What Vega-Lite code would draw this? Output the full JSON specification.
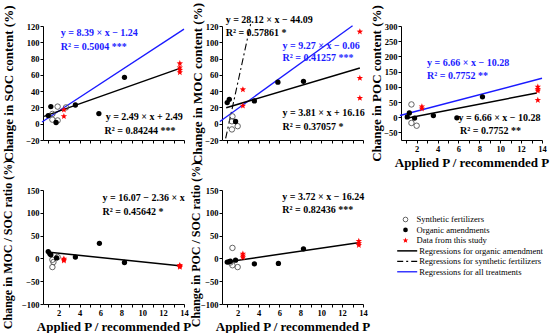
{
  "$schema": "https://vega.github.io/schema/vega-lite/v6.json",
  "padding": {"left": 0, "top": 2, "right": 0, "bottom": 0},
  "config": {
    "view": {"stroke": null},
    "axis": {"grid": false, "domainColor": "black", "tickColor": "black", "tickSize": 3, "domainWidth": 1, "tickWidth": 1,
      "labelFont": "Liberation Serif", "labelFontWeight": "bold", "labelFontSize": 8.5, "labelColor": "black", "labelPadding": 1,
      "labelFlush": false, "labelOverlap": false,
      "titleFont": "Liberation Serif", "titleFontWeight": "bold", "titleFontSize": 13, "titleColor": "black"},
    "axisY": {"titleAngle": 270, "titleBaseline": "bottom", "titleAlign": "center"}
  },
  "datasets": {
    "pts": [
      {"panel": "SOC", "group": "organic", "x": 1.0, "y": 10}, {"panel": "SOC", "group": "organic", "x": 1.25, "y": 21}, {"panel": "SOC", "group": "organic", "x": 1.75, "y": 1.5}, {"panel": "SOC", "group": "organic", "x": 3.6, "y": 23}, {"panel": "SOC", "group": "organic", "x": 5.85, "y": 12.5}, {"panel": "SOC", "group": "organic", "x": 8.3, "y": 57},
      {"panel": "SOC", "group": "synthetic", "x": 1.4, "y": 12}, {"panel": "SOC", "group": "synthetic", "x": 1.4, "y": 5}, {"panel": "SOC", "group": "synthetic", "x": 1.9, "y": 4}, {"panel": "SOC", "group": "synthetic", "x": 1.9, "y": 21}, {"panel": "SOC", "group": "synthetic", "x": 2.7, "y": 20},
      {"panel": "SOC", "group": "study", "x": 2.5, "y": 17}, {"panel": "SOC", "group": "study", "x": 2.5, "y": 9}, {"panel": "SOC", "group": "study", "x": 13.6, "y": 74}, {"panel": "SOC", "group": "study", "x": 13.6, "y": 69}, {"panel": "SOC", "group": "study", "x": 13.6, "y": 66}, {"panel": "SOC", "group": "study", "x": 13.6, "y": 63},
      {"panel": "MOC", "group": "organic", "x": 1.0, "y": 26}, {"panel": "MOC", "group": "organic", "x": 1.2, "y": 30}, {"panel": "MOC", "group": "organic", "x": 1.8, "y": 2.7}, {"panel": "MOC", "group": "organic", "x": 3.6, "y": 28}, {"panel": "MOC", "group": "organic", "x": 5.85, "y": 51}, {"panel": "MOC", "group": "organic", "x": 8.3, "y": 52},
      {"panel": "MOC", "group": "synthetic", "x": 1.5, "y": 9}, {"panel": "MOC", "group": "synthetic", "x": 1.45, "y": 3}, {"panel": "MOC", "group": "synthetic", "x": 1.45, "y": -7}, {"panel": "MOC", "group": "synthetic", "x": 2.0, "y": -3},
      {"panel": "MOC", "group": "study", "x": 2.5, "y": 42}, {"panel": "MOC", "group": "study", "x": 2.5, "y": 22}, {"panel": "MOC", "group": "study", "x": 13.7, "y": 113}, {"panel": "MOC", "group": "study", "x": 13.7, "y": 56}, {"panel": "MOC", "group": "study", "x": 13.7, "y": 31.5},
      {"panel": "POC", "group": "organic", "x": 1.1, "y": 1}, {"panel": "POC", "group": "organic", "x": 1.3, "y": 14}, {"panel": "POC", "group": "organic", "x": 1.8, "y": -3}, {"panel": "POC", "group": "organic", "x": 3.6, "y": 5.5}, {"panel": "POC", "group": "organic", "x": 5.85, "y": -2}, {"panel": "POC", "group": "organic", "x": 8.3, "y": 67},
      {"panel": "POC", "group": "synthetic", "x": 1.5, "y": 42}, {"panel": "POC", "group": "synthetic", "x": 1.5, "y": -19}, {"panel": "POC", "group": "synthetic", "x": 2.0, "y": -28},
      {"panel": "POC", "group": "study", "x": 2.5, "y": 35}, {"panel": "POC", "group": "study", "x": 2.5, "y": 28}, {"panel": "POC", "group": "study", "x": 13.6, "y": 100}, {"panel": "POC", "group": "study", "x": 13.6, "y": 92}, {"panel": "POC", "group": "study", "x": 13.6, "y": 87}, {"panel": "POC", "group": "study", "x": 13.6, "y": 56},
      {"panel": "MS", "group": "organic", "x": 1.0, "y": 15}, {"panel": "MS", "group": "organic", "x": 1.15, "y": 10}, {"panel": "MS", "group": "organic", "x": 1.25, "y": 8}, {"panel": "MS", "group": "organic", "x": 1.8, "y": 1}, {"panel": "MS", "group": "organic", "x": 3.6, "y": 3}, {"panel": "MS", "group": "organic", "x": 5.9, "y": 33}, {"panel": "MS", "group": "organic", "x": 8.3, "y": -9},
      {"panel": "MS", "group": "synthetic", "x": 1.4, "y": -3}, {"panel": "MS", "group": "synthetic", "x": 1.4, "y": -19}, {"panel": "MS", "group": "synthetic", "x": 1.9, "y": 3}, {"panel": "MS", "group": "synthetic", "x": 1.5, "y": -8},
      {"panel": "MS", "group": "study", "x": 2.5, "y": -3}, {"panel": "MS", "group": "study", "x": 2.5, "y": -1}, {"panel": "MS", "group": "study", "x": 2.5, "y": -5}, {"panel": "MS", "group": "study", "x": 13.6, "y": -17}, {"panel": "MS", "group": "study", "x": 13.6, "y": -19}, {"panel": "MS", "group": "study", "x": 13.6, "y": -15},
      {"panel": "PS", "group": "organic", "x": 1.0, "y": -8}, {"panel": "PS", "group": "organic", "x": 1.2, "y": -7}, {"panel": "PS", "group": "organic", "x": 1.3, "y": -6}, {"panel": "PS", "group": "organic", "x": 1.8, "y": -4}, {"panel": "PS", "group": "organic", "x": 3.6, "y": -12}, {"panel": "PS", "group": "organic", "x": 5.9, "y": -11}, {"panel": "PS", "group": "organic", "x": 8.3, "y": 21},
      {"panel": "PS", "group": "synthetic", "x": 1.5, "y": 23}, {"panel": "PS", "group": "synthetic", "x": 1.5, "y": -15}, {"panel": "PS", "group": "synthetic", "x": 2.0, "y": -19}, {"panel": "PS", "group": "synthetic", "x": 1.3, "y": -9},
      {"panel": "PS", "group": "study", "x": 2.5, "y": 10}, {"panel": "PS", "group": "study", "x": 2.5, "y": 6}, {"panel": "PS", "group": "study", "x": 2.5, "y": 2}, {"panel": "PS", "group": "study", "x": 13.6, "y": 38}, {"panel": "PS", "group": "study", "x": 13.6, "y": 33}, {"panel": "PS", "group": "study", "x": 13.6, "y": 29}
    ],
    "lines": [
      {"panel": "SOC", "reg": "organic", "x": 0.6, "y": 9}, {"panel": "SOC", "reg": "organic", "x": 13.6, "y": 68},
      {"panel": "SOC", "reg": "all", "x": 0.4, "y": 2.1}, {"panel": "SOC", "reg": "all", "x": 14, "y": 116.2},
      {"panel": "MOC", "reg": "organic", "x": 0.9, "y": 19.6}, {"panel": "MOC", "reg": "organic", "x": 13.7, "y": 68.4},
      {"panel": "MOC", "reg": "all", "x": 0.3, "y": 2.7}, {"panel": "MOC", "reg": "all", "x": 13, "y": 120.4},
      {"panel": "MOC", "reg": "synthetic", "x": 0.85, "y": -18}, {"panel": "MOC", "reg": "synthetic", "x": 3.3, "y": 126},
      {"panel": "POC", "reg": "organic", "x": 0.9, "y": -4.3}, {"panel": "POC", "reg": "organic", "x": 13.5, "y": 79.6},
      {"panel": "POC", "reg": "all", "x": 0.4, "y": 5.6}, {"panel": "POC", "reg": "all", "x": 14, "y": 128},
      {"panel": "MS", "reg": "organic", "x": 0.9, "y": 14}, {"panel": "MS", "reg": "organic", "x": 13.8, "y": -16.5},
      {"panel": "PS", "reg": "organic", "x": 0.9, "y": -8}, {"panel": "PS", "reg": "organic", "x": 13.7, "y": 35}
    ],
    "eqs": [
      {"panel": "SOC", "reg": "all", "label": "y = 8.39 × x − 1.24", "x": 2.2, "y": 111.8},
      {"panel": "SOC", "reg": "all", "label": "R² = 0.5004 ***", "x": 2.2, "y": 94},
      {"panel": "SOC", "reg": "organic", "label": "y = 2.49 × x + 2.49", "x": 6.5, "y": 8},
      {"panel": "SOC", "reg": "organic", "label": "R² = 0.84244 ***", "x": 6.4, "y": -8.4},
      {"panel": "MOC", "reg": "synthetic", "label": "y = 28.12 × x − 44.09", "x": 0.85, "y": 127.4},
      {"panel": "MOC", "reg": "synthetic", "label": "R² = 0.57861 *", "x": 0.85, "y": 111},
      {"panel": "MOC", "reg": "all", "label": "y = 9.27 × x − 0.06", "x": 6.3, "y": 96},
      {"panel": "MOC", "reg": "all", "label": "R² = 0.41257 ***", "x": 6.3, "y": 81},
      {"panel": "MOC", "reg": "organic", "label": "y = 3.81 × x + 16.16", "x": 6.3, "y": 13},
      {"panel": "MOC", "reg": "organic", "label": "R² = 0.37057 *", "x": 6.3, "y": -3.5},
      {"panel": "POC", "reg": "all", "label": "y = 6.66 × x − 10.28", "x": 3.0, "y": 178},
      {"panel": "POC", "reg": "all", "label": "R² = 0.7752 **", "x": 3.0, "y": 135.6},
      {"panel": "POC", "reg": "organic", "label": "y = 6.66 × x − 10.28", "x": 6.0, "y": -2},
      {"panel": "POC", "reg": "organic", "label": "R² = 0.7752 **", "x": 6.15, "y": -46.7},
      {"panel": "MS", "reg": "organic", "label": "y = 16.07 − 2.36 × x", "x": 6.2, "y": 133},
      {"panel": "MS", "reg": "organic", "label": "R² = 0.45642 *", "x": 6.2, "y": 102},
      {"panel": "PS", "reg": "organic", "label": "y = 3.72 × x − 16.24", "x": 6.27, "y": 135},
      {"panel": "PS", "reg": "organic", "label": "R² = 0.82436 ***", "x": 6.27, "y": 106}
    ],
    "leg": [
      {"order": 0, "kind": "syn", "label": "Synthetic fertilizers"},
      {"order": 1, "kind": "org", "label": "Organic amendments"},
      {"order": 2, "kind": "study", "label": "Data from this study"},
      {"order": 3, "kind": "lorg", "label": "Regressions for organic amendment"},
      {"order": 4, "kind": "lsyn", "label": "Regressions for synthetic fertilizers"},
      {"order": 5, "kind": "lall", "label": "Regressions for all treatments"}
    ]
  },
  "columns": 3,
  "spacing": {"row": 50, "column": 38},
  "bounds": "flush",
  "concat": [
    {
      "width": 141, "height": 114,
      "encoding": {
        "x": {"field": "x", "type": "quantitative", "scale": {"domain": [0.5, 14]}, "axis": {"values": [1,2,3,4,5,6,7,8,9,10,11,12,13,14], "labels": false, "title": null}},
        "y": {"field": "y", "type": "quantitative", "scale": {"domain": [-20, 120]}, "axis": {"values": [-20,0,20,40,60,80,100,120], "title": "Change in SOC content (%)", "titleX": -28}}
      },
      "layer": [
        {"data": {"name": "lines"}, "transform": [{"filter": "datum.panel == 'SOC' && datum.reg == 'all'"}], "mark": {"type": "line", "color": "#1a1aff", "strokeWidth": 1.3}, "encoding": {}},
        {"data": {"name": "lines"}, "transform": [{"filter": "datum.panel == 'SOC' && datum.reg == 'organic'"}], "mark": {"type": "line", "color": "black", "strokeWidth": 1.5}, "encoding": {}},
        {"data": {"name": "pts"}, "transform": [{"filter": "datum.panel == 'SOC' && datum.group == 'synthetic'"}], "mark": {"type": "point", "shape": "circle", "filled": false, "stroke": "#555555", "strokeWidth": 0.9, "size": 30, "opacity": 1}},
        {"data": {"name": "pts"}, "transform": [{"filter": "datum.panel == 'SOC' && datum.group == 'organic'"}], "mark": {"type": "point", "shape": "circle", "filled": true, "color": "black", "size": 28, "opacity": 1}},
        {"data": {"name": "pts"}, "transform": [{"filter": "datum.panel == 'SOC' && datum.group == 'study'"}], "mark": {"type": "point", "shape": "M0,-1L0.247,-0.34L0.951,-0.309L0.399,0.13L0.588,0.809L0,0.42L-0.588,0.809L-0.399,0.13L-0.951,-0.309L-0.247,-0.34Z", "filled": true, "color": "red", "size": 45, "opacity": 1}},
        {"data": {"name": "eqs"}, "transform": [{"filter": "datum.panel == 'SOC' && datum.reg == 'all'"}], "mark": {"type": "text", "align": "left", "baseline": "middle", "font": "Liberation Serif", "fontWeight": "bold", "fontSize": 10, "color": "#1a1aff"}, "encoding": {"text": {"field": "label"}}},
        {"data": {"name": "eqs"}, "transform": [{"filter": "datum.panel == 'SOC' && datum.reg != 'all'"}], "mark": {"type": "text", "align": "left", "baseline": "middle", "font": "Liberation Serif", "fontWeight": "bold", "fontSize": 10, "color": "black"}, "encoding": {"text": {"field": "label"}}}
      ]
    },
    {
      "width": 141, "height": 114,
      "encoding": {
        "x": {"field": "x", "type": "quantitative", "scale": {"domain": [0.5, 14]}, "axis": {"values": [1,2,3,4,5,6,7,8,9,10,11,12,13,14], "labels": false, "title": null}},
        "y": {"field": "y", "type": "quantitative", "scale": {"domain": [-20, 120]}, "axis": {"values": [-20,0,20,40,60,80,100,120], "title": "Change in MOC content (%)", "titleX": -18}}
      },
      "layer": [
        {"data": {"name": "lines"}, "transform": [{"filter": "datum.panel == 'MOC' && datum.reg == 'synthetic'"}], "mark": {"type": "line", "color": "black", "strokeWidth": 1.1, "strokeDash": [7, 3, 2, 3]}, "encoding": {}},
        {"data": {"name": "lines"}, "transform": [{"filter": "datum.panel == 'MOC' && datum.reg == 'all'"}], "mark": {"type": "line", "color": "#1a1aff", "strokeWidth": 1.3}, "encoding": {}},
        {"data": {"name": "lines"}, "transform": [{"filter": "datum.panel == 'MOC' && datum.reg == 'organic'"}], "mark": {"type": "line", "color": "black", "strokeWidth": 1.5}, "encoding": {}},
        {"data": {"name": "pts"}, "transform": [{"filter": "datum.panel == 'MOC' && datum.group == 'synthetic'"}], "mark": {"type": "point", "shape": "circle", "filled": false, "stroke": "#555555", "strokeWidth": 0.9, "size": 30, "opacity": 1}},
        {"data": {"name": "pts"}, "transform": [{"filter": "datum.panel == 'MOC' && datum.group == 'organic'"}], "mark": {"type": "point", "shape": "circle", "filled": true, "color": "black", "size": 28, "opacity": 1}},
        {"data": {"name": "pts"}, "transform": [{"filter": "datum.panel == 'MOC' && datum.group == 'study'"}], "mark": {"type": "point", "shape": "M0,-1L0.247,-0.34L0.951,-0.309L0.399,0.13L0.588,0.809L0,0.42L-0.588,0.809L-0.399,0.13L-0.951,-0.309L-0.247,-0.34Z", "filled": true, "color": "red", "size": 45, "opacity": 1}},
        {"data": {"name": "eqs"}, "transform": [{"filter": "datum.panel == 'MOC' && datum.reg == 'all'"}], "mark": {"type": "text", "align": "left", "baseline": "middle", "font": "Liberation Serif", "fontWeight": "bold", "fontSize": 10, "color": "#1a1aff"}, "encoding": {"text": {"field": "label"}}},
        {"data": {"name": "eqs"}, "transform": [{"filter": "datum.panel == 'MOC' && datum.reg != 'all'"}], "mark": {"type": "text", "align": "left", "baseline": "middle", "font": "Liberation Serif", "fontWeight": "bold", "fontSize": 10, "color": "black"}, "encoding": {"text": {"field": "label"}}}
      ]
    },
    {
      "width": 141, "height": 114,
      "encoding": {
        "x": {"field": "x", "type": "quantitative", "scale": {"domain": [0.5, 14]}, "axis": {"values": [1,2,3,4,5,6,7,8,9,10,11,12,13,14], "labelExpr": "datum.value % 2 == 0 ? datum.label : ''", "title": "Applied P / recommended P", "titlePadding": 4}},
        "y": {"field": "y", "type": "quantitative", "scale": {"domain": [-75, 300]}, "axis": {"values": [-50,0,50,100,150,200,250,300], "title": "Change in POC content (%)", "titleX": -18}}
      },
      "layer": [
        {"data": {"name": "lines"}, "transform": [{"filter": "datum.panel == 'POC' && datum.reg == 'all'"}], "mark": {"type": "line", "color": "#1a1aff", "strokeWidth": 1.5}, "encoding": {}},
        {"data": {"name": "lines"}, "transform": [{"filter": "datum.panel == 'POC' && datum.reg == 'organic'"}], "mark": {"type": "line", "color": "black", "strokeWidth": 1.5}, "encoding": {}},
        {"data": {"name": "pts"}, "transform": [{"filter": "datum.panel == 'POC' && datum.group == 'synthetic'"}], "mark": {"type": "point", "shape": "circle", "filled": false, "stroke": "#555555", "strokeWidth": 0.9, "size": 30, "opacity": 1}},
        {"data": {"name": "pts"}, "transform": [{"filter": "datum.panel == 'POC' && datum.group == 'organic'"}], "mark": {"type": "point", "shape": "circle", "filled": true, "color": "black", "size": 28, "opacity": 1}},
        {"data": {"name": "pts"}, "transform": [{"filter": "datum.panel == 'POC' && datum.group == 'study'"}], "mark": {"type": "point", "shape": "M0,-1L0.247,-0.34L0.951,-0.309L0.399,0.13L0.588,0.809L0,0.42L-0.588,0.809L-0.399,0.13L-0.951,-0.309L-0.247,-0.34Z", "filled": true, "color": "red", "size": 45, "opacity": 1}},
        {"data": {"name": "eqs"}, "transform": [{"filter": "datum.panel == 'POC' && datum.reg == 'all'"}], "mark": {"type": "text", "align": "left", "baseline": "middle", "font": "Liberation Serif", "fontWeight": "bold", "fontSize": 10, "color": "#1a1aff"}, "encoding": {"text": {"field": "label"}}},
        {"data": {"name": "eqs"}, "transform": [{"filter": "datum.panel == 'POC' && datum.reg != 'all'"}], "mark": {"type": "text", "align": "left", "baseline": "middle", "font": "Liberation Serif", "fontWeight": "bold", "fontSize": 10, "color": "black"}, "encoding": {"text": {"field": "label"}}}
      ]
    },
    {
      "width": 141, "height": 114,
      "encoding": {
        "x": {"field": "x", "type": "quantitative", "scale": {"domain": [0.5, 14]}, "axis": {"values": [1,2,3,4,5,6,7,8,9,10,11,12,13,14], "labelExpr": "datum.value % 2 == 0 ? datum.label : ''", "title": "Applied P / recommended P", "titlePadding": 4}},
        "y": {"field": "y", "type": "quantitative", "scale": {"domain": [-100, 150]}, "axis": {"values": [-100,-50,0,50,100,150], "title": "Change in MOC / SOC ratio (%)", "titleX": -29, "titleY": 54, "titleFontSize": 12}}
      },
      "layer": [
        {"data": {"name": "lines"}, "transform": [{"filter": "datum.panel == 'MS' && datum.reg == 'organic'"}], "mark": {"type": "line", "color": "black", "strokeWidth": 1.5}, "encoding": {}},
        {"data": {"name": "pts"}, "transform": [{"filter": "datum.panel == 'MS' && datum.group == 'synthetic'"}], "mark": {"type": "point", "shape": "circle", "filled": false, "stroke": "#555555", "strokeWidth": 0.9, "size": 30, "opacity": 1}},
        {"data": {"name": "pts"}, "transform": [{"filter": "datum.panel == 'MS' && datum.group == 'organic'"}], "mark": {"type": "point", "shape": "circle", "filled": true, "color": "black", "size": 28, "opacity": 1}},
        {"data": {"name": "pts"}, "transform": [{"filter": "datum.panel == 'MS' && datum.group == 'study'"}], "mark": {"type": "point", "shape": "M0,-1L0.247,-0.34L0.951,-0.309L0.399,0.13L0.588,0.809L0,0.42L-0.588,0.809L-0.399,0.13L-0.951,-0.309L-0.247,-0.34Z", "filled": true, "color": "red", "size": 45, "opacity": 1}},
        {"data": {"name": "eqs"}, "transform": [{"filter": "datum.panel == 'MS'"}], "mark": {"type": "text", "align": "left", "baseline": "middle", "font": "Liberation Serif", "fontWeight": "bold", "fontSize": 10, "color": "black"}, "encoding": {"text": {"field": "label"}}}
      ]
    },
    {
      "width": 141, "height": 114,
      "encoding": {
        "x": {"field": "x", "type": "quantitative", "scale": {"domain": [0.5, 14]}, "axis": {"values": [1,2,3,4,5,6,7,8,9,10,11,12,13,14], "labelExpr": "datum.value % 2 == 0 ? datum.label : ''", "title": "Applied P / recommended P", "titlePadding": 4}},
        "y": {"field": "y", "type": "quantitative", "scale": {"domain": [-100, 150]}, "axis": {"values": [-100,-50,0,50,100,150], "title": "Change in POC / SOC ratio (%)", "titleX": -20, "titleY": 54, "titleFontSize": 12}}
      },
      "layer": [
        {"data": {"name": "lines"}, "transform": [{"filter": "datum.panel == 'PS' && datum.reg == 'organic'"}], "mark": {"type": "line", "color": "black", "strokeWidth": 1.5}, "encoding": {}},
        {"data": {"name": "pts"}, "transform": [{"filter": "datum.panel == 'PS' && datum.group == 'synthetic'"}], "mark": {"type": "point", "shape": "circle", "filled": false, "stroke": "#555555", "strokeWidth": 0.9, "size": 30, "opacity": 1}},
        {"data": {"name": "pts"}, "transform": [{"filter": "datum.panel == 'PS' && datum.group == 'organic'"}], "mark": {"type": "point", "shape": "circle", "filled": true, "color": "black", "size": 28, "opacity": 1}},
        {"data": {"name": "pts"}, "transform": [{"filter": "datum.panel == 'PS' && datum.group == 'study'"}], "mark": {"type": "point", "shape": "M0,-1L0.247,-0.34L0.951,-0.309L0.399,0.13L0.588,0.809L0,0.42L-0.588,0.809L-0.399,0.13L-0.951,-0.309L-0.247,-0.34Z", "filled": true, "color": "red", "size": 45, "opacity": 1}},
        {"data": {"name": "eqs"}, "transform": [{"filter": "datum.panel == 'PS'"}], "mark": {"type": "text", "align": "left", "baseline": "middle", "font": "Liberation Serif", "fontWeight": "bold", "fontSize": 10, "color": "black"}, "encoding": {"text": {"field": "label"}}}
      ]
    },
    {
      "width": 141, "height": 114,
      "data": {"name": "leg"},
      "encoding": {"y": {"field": "order", "type": "quantitative", "scale": {"domain": [-2.82, 8.08], "reverse": true}, "axis": null}},
      "layer": [
        {"transform": [{"filter": "datum.kind == 'syn'"}], "mark": {"type": "point", "shape": "circle", "filled": false, "stroke": "#555555", "strokeWidth": 0.9, "size": 22, "opacity": 1}, "encoding": {"x": {"datum": 4.5, "type": "quantitative", "scale": {"domain": [0, 141]}, "axis": null}}},
        {"transform": [{"filter": "datum.kind == 'org'"}], "mark": {"type": "point", "shape": "circle", "filled": true, "color": "black", "size": 22, "opacity": 1}, "encoding": {"x": {"datum": 4.5, "type": "quantitative", "scale": {"domain": [0, 141]}, "axis": null}}},
        {"transform": [{"filter": "datum.kind == 'study'"}], "mark": {"type": "point", "shape": "M0,-1L0.247,-0.34L0.951,-0.309L0.399,0.13L0.588,0.809L0,0.42L-0.588,0.809L-0.399,0.13L-0.951,-0.309L-0.247,-0.34Z", "filled": true, "color": "red", "size": 35, "opacity": 1}, "encoding": {"x": {"datum": 4.5, "type": "quantitative", "scale": {"domain": [0, 141]}, "axis": null}}},
        {"transform": [{"filter": "datum.kind == 'lorg'"}], "mark": {"type": "rule", "color": "black", "strokeWidth": 1.5}, "encoding": {"x": {"datum": -3.8, "type": "quantitative", "scale": {"domain": [0, 141]}, "axis": null}, "x2": {"datum": 16.2}}},
        {"transform": [{"filter": "datum.kind == 'lsyn'"}], "mark": {"type": "rule", "color": "black", "strokeWidth": 1.1, "strokeDash": [6, 3, 2, 3]}, "encoding": {"x": {"datum": -3.8, "type": "quantitative", "scale": {"domain": [0, 141]}, "axis": null}, "x2": {"datum": 16.2}}},
        {"transform": [{"filter": "datum.kind == 'lall'"}], "mark": {"type": "rule", "color": "#1a1aff", "strokeWidth": 1.3}, "encoding": {"x": {"datum": -3.8, "type": "quantitative", "scale": {"domain": [0, 141]}, "axis": null}, "x2": {"datum": 16.2}}},
        {"transform": [{"filter": "datum.kind == 'syn' || datum.kind == 'org' || datum.kind == 'study'"}], "mark": {"type": "text", "align": "left", "baseline": "middle", "font": "Liberation Serif", "fontSize": 8.6, "color": "black"}, "encoding": {"x": {"datum": 15.5, "type": "quantitative", "scale": {"domain": [0, 141]}, "axis": null}, "text": {"field": "label"}}},
        {"transform": [{"filter": "datum.kind == 'lorg' || datum.kind == 'lsyn' || datum.kind == 'lall'"}], "mark": {"type": "text", "align": "left", "baseline": "middle", "font": "Liberation Serif", "fontSize": 8.6, "color": "black"}, "encoding": {"x": {"datum": 18.2, "type": "quantitative", "scale": {"domain": [0, 141]}, "axis": null}, "text": {"field": "label"}}}
      ]
    }
  ]
}
